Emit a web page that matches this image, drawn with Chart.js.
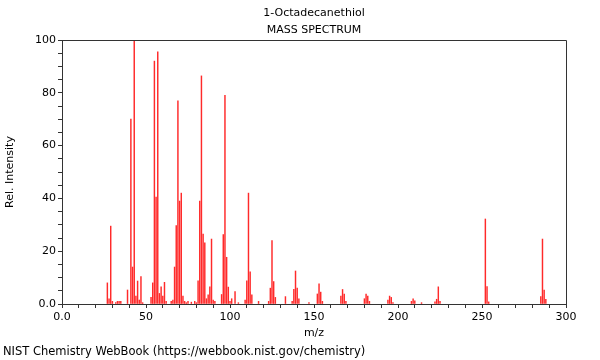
<!DOCTYPE html>
<html>
<head>
<meta charset="utf-8">
<script src="https://cdn.jsdelivr.net/npm/chart.js@4"></script>
<style>
  html, body { margin: 0; padding: 0; background: #fff; }
  #wrap { width: 600px; height: 360px; }
</style>
</head>
<body>
<div id="wrap"><canvas id="spec" width="600" height="360"></canvas></div>
<script>
// Spectre de masse
const chartTitle = '1-Octadecanethiol';
const chartSubtitle = 'MASS SPECTRUM';
const footerText = 'NIST Chemistry WebBook (https://webbook.nist.gov/chemistry)';

const mz = [27, 28, 29, 30, 32, 33, 34, 35, 39, 41, 42, 43, 44, 45, 46, 47, 48,
  53, 54, 55, 56, 57, 58, 59, 60, 61, 62, 65, 66, 67, 68, 69, 70, 71, 72, 73, 74, 75,
  77, 79, 80, 81, 82, 83, 84, 85, 86, 87, 88, 89, 90, 91, 95, 96, 97, 98, 99, 100,
  101, 103, 105, 109, 110, 111, 112, 113, 117, 123, 124, 125, 126, 127, 133, 137,
  138, 139, 140, 141, 147, 152, 153, 154, 155, 166, 167, 168, 169, 180, 181, 182,
  183, 194, 195, 196, 197, 208, 209, 210, 214, 222, 223, 224, 225, 252, 253, 254,
  285, 286, 287, 288];
const intensity = [8, 2, 29.5, 1, 0.5, 1, 1, 1, 5.3, 70, 14, 100, 3, 8.7, 1.5, 10.4, 0.5,
  2.5, 8, 92, 40.5, 95.5, 4, 6.5, 3, 8.2, 1, 1, 1.5, 14, 29.7, 77, 39, 42, 3, 1, 0.5, 1,
  0.7, 1, 0.5, 8.8, 39, 86.4, 26.5, 23.2, 2, 3.5, 6.5, 24.6, 1.5, 1, 3.6, 26.3, 79, 17.7, 6.4, 1,
  2, 4.7, 0.5, 1.5, 8.8, 42, 12.2, 3.5, 1, 1, 6, 24, 8.5, 2.5, 2.8, 1,
  5.6, 12.5, 6, 2, 0.5, 3.8, 7.6, 4.5, 1, 3, 5.5, 3.8, 1, 2, 3.8, 3,
  1, 1.5, 3, 2.5, 0.5, 1, 2, 1.2, 0.5, 0.8, 1.8, 6.5, 1, 32.2, 6.6, 0.8,
  2.8, 24.6, 5.3, 1.8];

const FONT = 'DejaVu Sans';

// titres, cadre et pied de page
const decorPlugin = {
    id: 'decor',
    afterDraw(chart) {
        const ctx = chart.ctx;
        const a = chart.chartArea;
        ctx.save();
        ctx.strokeStyle = '#333';
        ctx.lineWidth = 1;
        ctx.beginPath();
        ctx.moveTo(a.left, a.top + 0.5);
        ctx.lineTo(a.right + 0.5, a.top + 0.5);
        ctx.lineTo(a.right + 0.5, a.bottom);
        ctx.stroke();

        ctx.fillStyle = '#000';
        ctx.font = '11px "' + FONT + '"';
        ctx.textAlign = 'center';
        ctx.textBaseline = 'middle';
        const cx = (a.left + a.right) / 2;
        ctx.fillText(chartTitle, cx, 13);
        ctx.fillText(chartSubtitle, cx, 30);
        ctx.font = '11.5px "' + FONT + '"';
        ctx.textAlign = 'left';
        ctx.fillText(footerText, 3, 352);
        ctx.restore();
    }
};

new Chart(document.getElementById('spec').getContext('2d'), {
    type: 'bar',
    data: {
        datasets: [{
            label: 'Rel. Intensity',
            data: mz.map((m, i) => ({ x: m, y: intensity[i] })),
            backgroundColor: '#ff2a2a',
            borderWidth: 0,
            barThickness: 0.8
        }]
    },
    options: {
        responsive: false,
        animation: false,
        layout: { padding: { top: 40, right: 34, left: 0, bottom: 0 } },
        plugins: {
            legend: { display: false },
            tooltip: { enabled: false }
        },
        scales: {
            x: {
                type: 'linear',
                min: 0,
                max: 300,
                offset: false,
                grid: { offset: false, drawOnChartArea: false, drawTicks: true, tickLength: 4, color: '#333' },
                border: { display: true, color: '#333' },
                ticks: {
                    stepSize: 10,
                    autoSkip: false,
                    maxRotation: 0,
                    padding: 3,
                    color: '#000',
                    font: { family: FONT, size: 11 },
                    callback: v => v % 50 === 0 ? (v === 0 ? '0.0' : String(v)) : ''
                },
                title: {
                    display: true,
                    text: 'm/z',
                    color: '#000',
                    font: { family: FONT, size: 11, lineHeight: 1.2 },
                    padding: { top: 0, bottom: 20 }
                },
                afterFit(scale) { scale.height = 56; }
            },
            y: {
                min: 0,
                max: 100,
                grid: { drawOnChartArea: false, drawTicks: true, tickLength: 4, color: '#333' },
                border: { display: true, color: '#333' },
                ticks: {
                    stepSize: 5,
                    autoSkip: false,
                    padding: 2,
                    color: '#000',
                    font: { family: FONT, size: 11 },
                    callback: v => v % 20 === 0 ? (v === 0 ? '0.0' : String(v)) : ''
                },
                title: {
                    display: true,
                    text: 'Rel. Intensity',
                    color: '#000',
                    font: { family: FONT, size: 11, lineHeight: 1.2 },
                    padding: { top: 4, bottom: 0 }
                },
                afterFit(scale) { scale.width = 62; }
            }
        }
    },
    plugins: [decorPlugin]
});
</script>
</body>
</html>
